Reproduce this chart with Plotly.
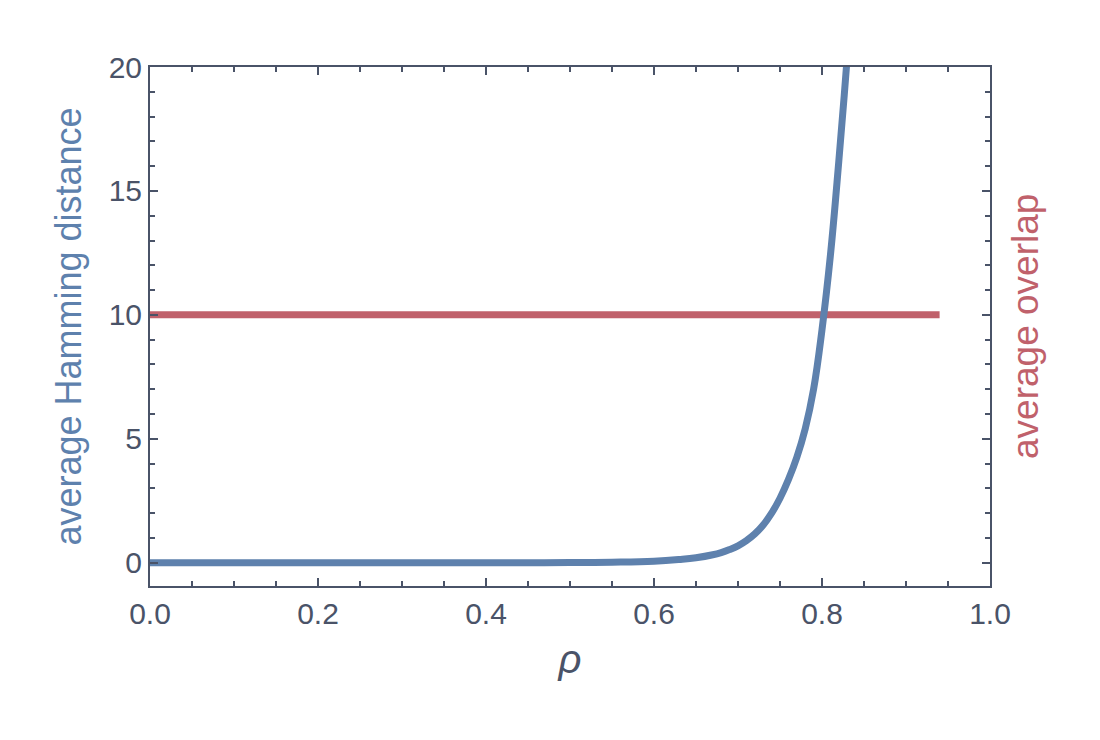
import plotly.graph_objects as go

# blue curve
rho = [0.0, 0.1, 0.2, 0.3, 0.4, 0.5, 0.55, 0.6, 0.63, 0.65, 0.67, 0.68, 0.69,
       0.70, 0.71, 0.72, 0.73, 0.74, 0.75, 0.76, 0.77, 0.78, 0.79, 0.80,
       0.81, 0.82, 0.83, 0.835]
hamming = [0.0, 0.0, 0.0, 0.0, 0.0, 0.005, 0.02, 0.06, 0.13, 0.2, 0.32, 0.41, 0.53,
           0.68, 0.89, 1.16, 1.52, 2.0, 2.6, 3.35, 4.25, 5.4, 7.0, 9.4,
           12.4, 16.2, 20.4, 22.8]

# red line
overlap_rho = [0.0, 0.94]
overlap = [10.0, 10.0]

x_ticks = [0.0, 0.2, 0.4, 0.6, 0.8, 1.0]
x_tick_text = ["0.0", "0.2", "0.4", "0.6", "0.8", "1.0"]
y_ticks = [0, 5, 10, 15, 20]

BLUE = "#5E81AD"
RED = "#C0616B"
AXIS = "#4A5368"
FONT = "Liberation Sans"

fig = go.Figure()
fig.add_trace(go.Scatter(x=overlap_rho, y=overlap, mode="lines",
                         line=dict(color=RED, width=7), showlegend=False))
fig.add_trace(go.Scatter(x=rho, y=hamming, mode="lines",
                         line=dict(color=BLUE, width=7, shape="spline", smoothing=1.2),
                         showlegend=False))

axis_common = dict(
    showline=True, linecolor=AXIS, linewidth=2, mirror="allticks",
    ticks="inside", ticklen=8, tickwidth=2, tickcolor=AXIS,
    showgrid=False, zeroline=False,
    tickfont=dict(family=FONT, size=30, color=AXIS),
)

fig.update_xaxes(
    range=[0, 1], tickvals=x_ticks, ticktext=x_tick_text,
    minor=dict(dtick=0.05, ticks="inside", ticklen=5, tickwidth=2, tickcolor=AXIS),
    title=dict(text="<i>ρ</i>", font=dict(family=FONT, size=40, color=AXIS), standoff=16),
    **axis_common,
)
fig.update_yaxes(
    range=[-0.94, 20], tickvals=y_ticks,
    minor=dict(dtick=1, ticks="inside", ticklen=5, tickwidth=2, tickcolor=AXIS),
    title=dict(text="average Hamming distance",
               font=dict(family=FONT, size=36, color=BLUE), standoff=16),
    **axis_common,
)

fig.add_annotation(text="average overlap", xref="paper", yref="paper",
                   x=1.069, y=0.5, textangle=-90, showarrow=False,
                   font=dict(family=FONT, size=37, color=RED))

fig.update_layout(
    width=1100, height=740,
    margin=dict(l=142, r=118, t=59, b=162),
    plot_bgcolor="white", paper_bgcolor="white",
)

fig.write_html("out.html")
